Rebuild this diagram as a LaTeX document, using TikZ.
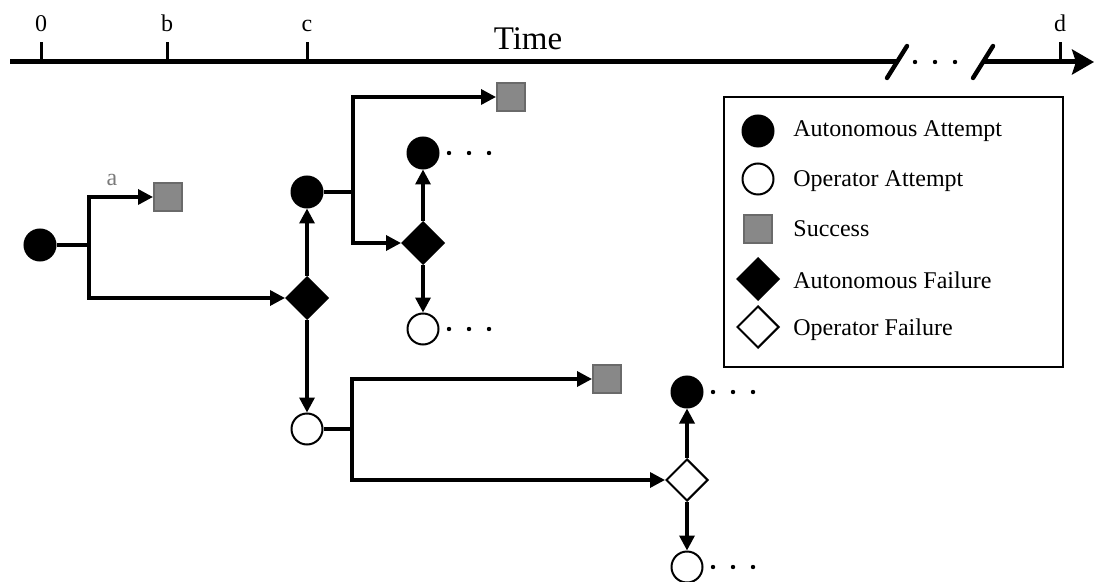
\documentclass[tikz,border=0pt]{standalone}
\usepackage{fontspec}
\setmainfont{Liberation Serif}
\usetikzlibrary{arrows.meta,shapes.geometric}
\definecolor{succfill}{HTML}{888888}
\definecolor{succdraw}{HTML}{6A6A6A}
\definecolor{lblgray}{HTML}{7A7A7A}
\begin{document}
\begin{tikzpicture}[x=0.5pt,y=-0.5pt,
  conn/.style={line width=1.7pt, -{Triangle[length=7.5pt,width=7.5pt]}},
  plain/.style={line width=1.7pt},
  aatt/.style={circle, draw=black, fill=black, line width=1pt, minimum size=15.5pt, inner sep=0pt},
  oatt/.style={circle, draw=black, fill=white, line width=1pt, minimum size=15.5pt, inner sep=0pt},
  succ/.style={rectangle, draw=succdraw, fill=succfill, line width=1pt, minimum size=14pt, inner sep=0pt},
  afail/.style={diamond, aspect=1, draw=black, fill=black, line width=1pt, minimum size=21pt, inner sep=0pt},
  ofail/.style={diamond, aspect=1, draw=black, fill=white, line width=1pt, minimum size=21pt, inner sep=0pt},
  lbl/.style={font=\fontsize{12}{14}\selectfont, inner sep=0pt},
  axis/.style={line width=2.5pt},
  tick/.style={line width=1.5pt},
  brk/.style={line width=2.2pt, line cap=round},
  legbox/.style={draw=black, line width=1.3pt, minimum width=169.5pt, minimum height=135pt, inner sep=0pt}
]
\useasboundingbox (0,0) rectangle (1095,582);

% ---------- time axis ----------
\coordinate (ax0) at (10,62);
\coordinate (ax1) at (897,62);
\coordinate (ax2) at (983,62);
\coordinate (ax3) at (1094,62);
\draw[axis] (ax0) -- (ax1);
\draw[axis, -{Stealth[length=11pt,width=12.5pt,inset=2pt]}] (ax2) -- (ax3);
\coordinate (b1a) at (887,78); \coordinate (b1b) at (907,46);
\coordinate (b2a) at (973,78); \coordinate (b2b) at (993,46);
\draw[brk] (b1a) -- (b1b);
\draw[brk] (b2a) -- (b2b);
\foreach \xx in {915,935,955} \fill (\xx,62) circle (1.1pt);
\foreach \xx/\tt/\nn in {41/0/t0,167/b/tb,307/c/tc,1060/d/td}{
  \coordinate (\nn) at (\xx,42);
  \draw[tick] (\xx,62) -- (\nn);
  \node[lbl, anchor=base] (\nn lab) at (\xx,32) {\tt};
}
\node[font=\fontsize{16.5}{18}\selectfont, inner sep=0pt, anchor=base] (time) at (528,50) {Time};

% ---------- tree ----------
\node[aatt] (root) at (40,245) {};
\coordinate (j1) at (89,245);
\node[succ] (s1) at (168,197) {};
\node[afail] (f1) at (307,298) {};
\node[aatt] (a2) at (307,192) {};
\coordinate (j2) at (353,192);
\node[succ] (s2) at (511,97) {};
\node[afail] (f2) at (423,243) {};
\node[aatt] (a3) at (423,153) {};
\node[oatt] (o3) at (423,329) {};
\node[oatt] (o2) at (307,429) {};
\coordinate (j3) at (352,429);
\node[succ] (s3) at (607,379) {};
\node[ofail] (f3) at (687,480) {};
\node[aatt] (a4) at (687,392) {};
\node[oatt] (o4) at (687,567) {};

\node[lbl, text=lblgray] (alab) at (112,180) {a};

\draw[plain] (root) -- (j1);
\draw[conn] (j1) |- (s1);
\draw[conn] (j1) |- (f1);
\draw[conn] (f1) -- (a2);
\draw[conn] (f1) -- (o2);

\draw[plain] (a2) -- (j2);
\draw[conn] (j2) |- (s2);
\draw[conn] (j2) |- (f2);
\draw[conn] (f2) -- (a3);
\draw[conn] (f2) -- (o3);

\draw[plain] (o2) -- (j3);
\draw[conn] (j3) |- (s3);
\draw[conn] (j3) |- (f3);
\draw[conn] (f3) -- (a4);
\draw[conn] (f3) -- (o4);

% trailing dots
\foreach \nd in {a3,o3,a4,o4}{
  \foreach \dd in {26,46,66} \fill ([xshift=\dd*0.5pt]\nd.center) circle (1.1pt);
}

% ---------- legend ----------
\node[legbox] (legend) at (893.5,232) {};
\node[aatt] (la) at (758,131) {};
\node[oatt] (lo) at (758,179) {};
\node[succ] (ls) at (758,229) {};
\node[afail] (lf) at (758,279) {};
\node[ofail] (lof) at (758,327) {};
\node[lbl, anchor=base west] (tla) at (793,137) {Autonomous Attempt};
\node[lbl, anchor=base west] (tlo) at (793,187) {Operator Attempt};
\node[lbl, anchor=base west] (tls) at (793,237) {Success};
\node[lbl, anchor=base west] (tlf) at (793,288) {Autonomous Failure};
\node[lbl, anchor=base west] (tlof) at (793,335) {Operator Failure};
\end{tikzpicture}
\end{document}
